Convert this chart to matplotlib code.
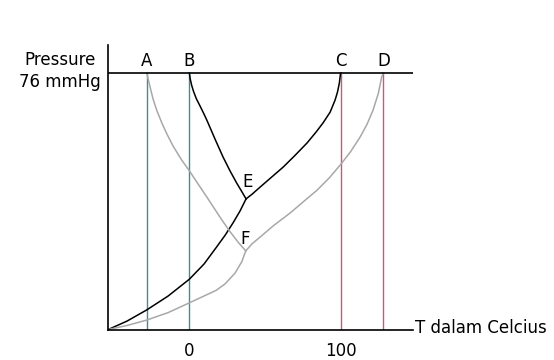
import matplotlib
matplotlib.use("Agg")
import matplotlib.pyplot as plt

# temperatures (Celsius) of the four freezing/boiling points at 76 mmHg
point_labels = ["A", "B", "C", "D"]
point_temps = [-28.2, 0.0, 100.0, 128.3]
point_colors = ["#3f8f8f", "#3f8f8f", "#cf5a66", "#cf5a66"]

p_atm = 76.0
t_origin = -53.6

# pure solvent curves (black)
black_low_t = [-53.6, -41.2, -28.2, -14.1, 0.0, 9.7, 18.1, 23.6, 28.9, 33.5, 37.5]
black_low_p = [0.0, 2.5, 5.8, 9.9, 14.9, 19.4, 24.5, 27.9, 31.6, 35.1, 38.7]
black_left_t = [0.0, 0.6, 1.5, 2.8, 4.6, 7.1, 9.4, 11.5, 17.0, 22.3, 26.9, 31.3, 34.5, 37.5]
black_left_p = [76.0, 74.2, 72.4, 70.5, 68.4, 66.2, 64.1, 62.1, 56.4, 51.1, 47.0, 43.4, 41.0, 38.7]
black_right_t = [37.5, 41.5, 46.8, 54.0, 62.0, 69.9, 77.9, 83.8, 88.4, 93.1, 96.4, 98.0, 99.2, 100.0]
black_right_p = [38.7, 40.1, 42.2, 45.0, 48.1, 51.6, 55.3, 58.5, 61.2, 64.4, 68.0, 70.4, 73.0, 76.0]

# solution curves (gray)
gray_low_t = [-53.6, -41.2, -28.2, -14.1, 0.0, 9.1, 17.7, 23.6, 30.2, 34.7, 37.3]
gray_low_p = [0.0, 1.2, 2.8, 5.0, 7.9, 9.8, 11.6, 13.5, 16.7, 20.1, 23.3]
gray_left_t = [-28.2, -26.0, -24.0, -21.6, -18.1, -14.8, -10.8, -5.5, 0.5, 5.8, 11.5,
               16.3, 21.6, 26.9, 32.2, 37.3]
gray_left_p = [76.0, 71.9, 68.3, 65.0, 61.1, 57.9, 54.4, 50.5, 46.7, 43.1, 39.3,
               36.0, 32.4, 29.0, 25.9, 23.3]
gray_right_t = [37.3, 41.5, 46.8, 56.0, 66.6, 75.5, 84.5, 92.5, 99.7, 106.5, 112.9,
                117.5, 121.5, 125.0, 127.2, 128.3]
gray_right_p = [23.3, 25.4, 27.4, 30.9, 34.5, 37.9, 41.3, 44.9, 48.7, 52.6, 57.0,
                60.8, 65.0, 70.0, 74.8, 76.0]

tick_temps = [0, 100]
tick_labels = ["0", "100"]

fig = plt.figure(figsize=(5.54, 3.60), dpi=100)
ax = fig.add_axes([0.1955, 0.0847, 0.5505, 0.7903])
ax.set_xlim(t_origin, 148.1)
ax.set_ylim(0, 84.3)

for s in ["top", "right"]:
    ax.spines[s].set_visible(False)
for s in ["left", "bottom"]:
    ax.spines[s].set_linewidth(1.2)
    ax.spines[s].set_color("black")

ax.axhline(p_atm, color="black", lw=1.2, zorder=3)

for lab, t, c in zip(point_labels, point_temps, point_colors):
    ax.plot([t, t], [0, p_atm], color=c, lw=1.0, zorder=1)
    ax.text(t, 78.1, lab, ha="center", va="baseline", fontsize=12)

ax.plot(black_low_t, black_low_p, color="black", lw=1.1, zorder=2)
ax.plot(black_left_t, black_left_p, color="black", lw=1.1, zorder=2)
ax.plot(black_right_t, black_right_p, color="black", lw=1.1, zorder=2)
ax.plot(gray_low_t, gray_low_p, color="#a8a8a8", lw=1.1, zorder=2)
ax.plot(gray_left_t, gray_left_p, color="#a8a8a8", lw=1.1, zorder=2)
ax.plot(gray_right_t, gray_right_p, color="#a8a8a8", lw=1.1, zorder=2)

ax.text(38.4, 42.3, "E", ha="center", va="baseline", fontsize=12)
ax.text(37.2, 25.2, "F", ha="center", va="baseline", fontsize=12)

ax.set_xticks(tick_temps)
ax.set_xticklabels(tick_labels, fontsize=12)
ax.tick_params(axis="x", length=0, pad=9)
ax.set_yticks([])

ax.text(149.3, -1.0, "T dalam Celcius", ha="left", va="baseline", fontsize=12, clip_on=False)
fig.text(60 / 554, 1 - 65 / 360, "Pressure", ha="center", va="baseline", fontsize=12)
fig.text(60 / 554, 1 - 86.7 / 360, "76 mmHg", ha="center", va="baseline", fontsize=12)

fig.savefig("out.png", dpi=100)
